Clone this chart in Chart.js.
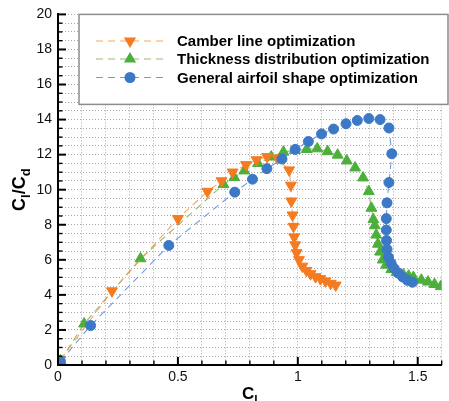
<!DOCTYPE html>
<html>
<head>
<meta charset="utf-8">
<script src="https://cdn.jsdelivr.net/npm/chart.js@4.4.1/dist/chart.umd.min.js"></script>
<style>
  html, body { margin: 0; padding: 0; background: #fff; }
  #wrap { width: 449px; height: 401px; }
</style>
</head>
<body>
<div id="wrap"><canvas id="myChart" width="449" height="401"></canvas></div>
<script>
// series names
const seriesLabels = [
  "Camber line optimization",
  "Thickness distribution optimization",
  "General airfoil shape optimization",
];

// camber line optimization (Cl, Cl/Cd)
const camberCl = [0.01, 0.225, 0.5, 0.623, 0.682, 0.728, 0.784, 0.828, 0.872, 0.915, 0.964, 0.971, 0.973, 0.978, 0.982, 0.985, 0.989, 0.995, 1.005, 1.019, 1.036, 1.053, 1.074, 1.094, 1.115, 1.137, 1.158];
const camberClCd = [0.3, 4.22, 8.35, 9.9, 10.5, 11.0, 11.42, 11.7, 11.88, 11.8, 11.12, 10.25, 9.35, 8.55, 7.9, 7.3, 6.85, 6.4, 6.0, 5.63, 5.39, 5.2, 5.03, 4.92, 4.79, 4.65, 4.55];

// thickness distribution optimization
const thickCl = [0.01, 0.109, 0.344, 0.69, 0.735, 0.777, 0.834, 0.889, 0.94, 0.988, 1.037, 1.081, 1.124, 1.166, 1.204, 1.239, 1.272, 1.296, 1.307, 1.315, 1.321, 1.327, 1.334, 1.343, 1.354, 1.368, 1.39, 1.412, 1.44, 1.462, 1.482, 1.515, 1.543, 1.57, 1.596];
const thickClCd = [0.25, 2.35, 6.07, 10.3, 10.7, 11.08, 11.5, 11.87, 12.15, 12.25, 12.3, 12.34, 12.18, 11.98, 11.65, 11.25, 10.68, 9.9, 8.95, 8.3, 7.95, 7.42, 6.9, 6.45, 6.0, 5.7, 5.45, 5.28, 5.15, 5.08, 5.0, 4.85, 4.74, 4.6, 4.48];

// general airfoil shape optimization
const generalCl = [0.01, 0.136, 0.462, 0.737, 0.811, 0.871, 0.934, 0.989, 1.044, 1.099, 1.149, 1.201, 1.248, 1.296, 1.343, 1.38, 1.392, 1.38, 1.372, 1.369, 1.369, 1.37, 1.372, 1.378, 1.389, 1.402, 1.418, 1.437, 1.457, 1.478];
const generalClCd = [0.2, 2.25, 6.82, 9.86, 10.6, 11.2, 11.75, 12.3, 12.75, 13.18, 13.46, 13.76, 13.95, 14.06, 14.0, 13.52, 12.05, 10.41, 9.25, 8.35, 7.7, 7.1, 6.6, 6.15, 5.8, 5.5, 5.25, 5.02, 4.83, 4.72];

// axis settings
const xMax = 1.6;
const yMax = 20;

const colors = ["#f47b20", "#4caf3c", "#3b78c6"];
const lineColors = ["rgba(244,150,70,0.85)", "rgba(140,170,90,0.85)", "rgba(90,140,210,0.85)"];
const styles = ["triangle", "triangle", "circle"];
const rotations = [180, 0, 0];
const radii = [6.3, 6.3, 5];
const drawOrder = [1, 2, 0];

function zip(xs, ys) {
  return xs.map((x, i) => ({ x, y: ys[i] }));
}

const seriesData = [zip(camberCl, camberClCd), zip(thickCl, thickClCd), zip(generalCl, generalClCd)];

const FONT = "'Liberation Sans', Arial, Helvetica, sans-serif";

function drawMarker(ctx, style, rot, r, x, y) {
  ctx.beginPath();
  if (style === "circle") {
    ctx.arc(x, y, r + 0.5, 0, Math.PI * 2);
  } else {
    let a = rot * Math.PI / 180;
    const rr = r + 0.8;
    ctx.moveTo(x + Math.sin(a) * rr, y - Math.cos(a) * rr);
    a += Math.PI * 2 / 3;
    ctx.lineTo(x + Math.sin(a) * rr, y - Math.cos(a) * rr);
    a += Math.PI * 2 / 3;
    ctx.lineTo(x + Math.sin(a) * rr, y - Math.cos(a) * rr);
    ctx.closePath();
  }
  ctx.fill();
}

function drawSubText(ctx, parts, x, y, big, small) {
  // parts: [text, isSub]
  let cx = x;
  for (const [t, sub] of parts) {
    ctx.font = "bold " + (sub ? small : big) + "px " + FONT;
    ctx.fillText(t, cx, sub ? y + big * 0.28 : y);
    cx += ctx.measureText(t).width;
  }
}

function textWidth(ctx, parts, big, small) {
  let w = 0;
  for (const [t, sub] of parts) {
    ctx.font = "bold " + (sub ? small : big) + "px " + FONT;
    w += ctx.measureText(t).width;
  }
  return w;
}

const decorPlugin = {
  id: "decor",
  afterDraw(chart) {
    const { ctx, chartArea, scales } = chart;
    const xs = scales.x, ys = scales.y;
    ctx.save();

    // inward tick marks
    ctx.strokeStyle = "#000";
    ys.ticks.forEach((t) => {
      const py = ys.getPixelForValue(t.value);
      const major = Math.abs(t.value % 2) < 1e-6;
      ctx.lineWidth = major ? 2 : 1.4;
      ctx.beginPath();
      ctx.moveTo(chartArea.left, py);
      ctx.lineTo(chartArea.left + (major ? 8 : 4.5), py);
      ctx.stroke();
    });
    xs.ticks.forEach((t) => {
      const px = xs.getPixelForValue(t.value);
      const major = Math.round(t.value * 10) % 5 === 0;
      ctx.lineWidth = major ? 2 : 1.4;
      ctx.beginPath();
      ctx.moveTo(px, chartArea.bottom);
      ctx.lineTo(px, chartArea.bottom - (major ? 8 : 4.5));
      ctx.stroke();
    });

    // axis titles
    ctx.fillStyle = "#000";
    ctx.textBaseline = "alphabetic";
    const xt = [["C", false], ["l", true]];
    const xw = textWidth(ctx, xt, 17, 12);
    drawSubText(ctx, xt, (chartArea.left + chartArea.right) / 2 - xw / 2, 399, 17, 12);

    const yt = [["C", false], ["l", true], ["/C", false], ["d", true]];
    const yw = textWidth(ctx, yt, 18, 13);
    ctx.save();
    ctx.translate(25, (chartArea.top + chartArea.bottom) / 2 + yw / 2);
    ctx.rotate(-Math.PI / 2);
    drawSubText(ctx, yt, 0, 0, 18, 13);
    ctx.restore();

    // legend box
    const bx = 79, by = chartArea.top, bw = 369, bh = 90;
    ctx.fillStyle = "#fff";
    ctx.fillRect(bx, by, bw, bh);
    ctx.strokeStyle = "#8c8c8c";
    ctx.lineWidth = 1.5;
    ctx.strokeRect(bx, by, bw, bh);

    const rows = [41, 59, 77.5];
    chart.data.datasets.forEach((ds, i) => {
      const ry = rows[i];
      ctx.strokeStyle = lineColors[i];
      ctx.lineWidth = 1.2;
      ctx.setLineDash([7, 5]);
      ctx.beginPath();
      ctx.moveTo(96, ry);
      ctx.lineTo(166, ry);
      ctx.stroke();
      ctx.setLineDash([]);
      ctx.fillStyle = colors[i];
      drawMarker(ctx, styles[i], rotations[i], radii[i], 130, ry);
      ctx.fillStyle = "#000";
      ctx.font = "bold 15px " + FONT;
      ctx.fillText(ds.label, 177, ry + 5);
    });

    ctx.restore();
  },
};

const datasets = seriesData.map((pts, i) => ({
  label: seriesLabels[i],
  data: pts,
  showLine: true,
  borderColor: lineColors[i],
  borderWidth: 1.1,
  borderDash: [7, 5],
  backgroundColor: colors[i],
  pointBackgroundColor: colors[i],
  pointBorderColor: colors[i],
  pointBorderWidth: 1,
  pointStyle: styles[i],
  pointRotation: rotations[i],
  pointRadius: radii[i],
  tension: 0,
  order: drawOrder[i],
}));

new Chart(document.getElementById("myChart"), {
  type: "scatter",
  data: { datasets },
  options: {
    responsive: false,
    animation: false,
    events: [],
    layout: { padding: { top: 10, right: 1, left: 0, bottom: 0 } },
    plugins: {
      legend: { display: false },
      tooltip: { enabled: false },
    },
    scales: {
      x: {
        type: "linear",
        min: 0,
        max: xMax,
        afterFit: (s) => { s.height = 36; },
        ticks: {
          stepSize: 0.1,
          autoSkip: false,
          maxRotation: 0,
          padding: 4,
          color: "#111",
          font: { family: FONT, size: 14 },
          callback: (v) => {
            const r = Math.round(v * 10);
            return r % 5 === 0 ? String(r / 10) : "";
          },
        },
        grid: { color: "#a8a8a8", lineWidth: 1, drawTicks: false },
        border: { color: "#000", width: 2, dash: [1, 2] },
      },
      y: {
        min: 0,
        max: yMax,
        afterFit: (s) => { s.width = 58; },
        ticks: {
          stepSize: 0.5,
          autoSkip: false,
          padding: 6,
          color: "#111",
          font: { family: FONT, size: 14 },
          callback: (v) => (Math.abs(v % 2) < 1e-6 ? String(v) : ""),
        },
        grid: { color: "#a8a8a8", lineWidth: 1, drawTicks: false },
        border: { color: "#000", width: 2, dash: [1, 2] },
      },
    },
  },
  plugins: [decorPlugin],
});
</script>
</body>
</html>
